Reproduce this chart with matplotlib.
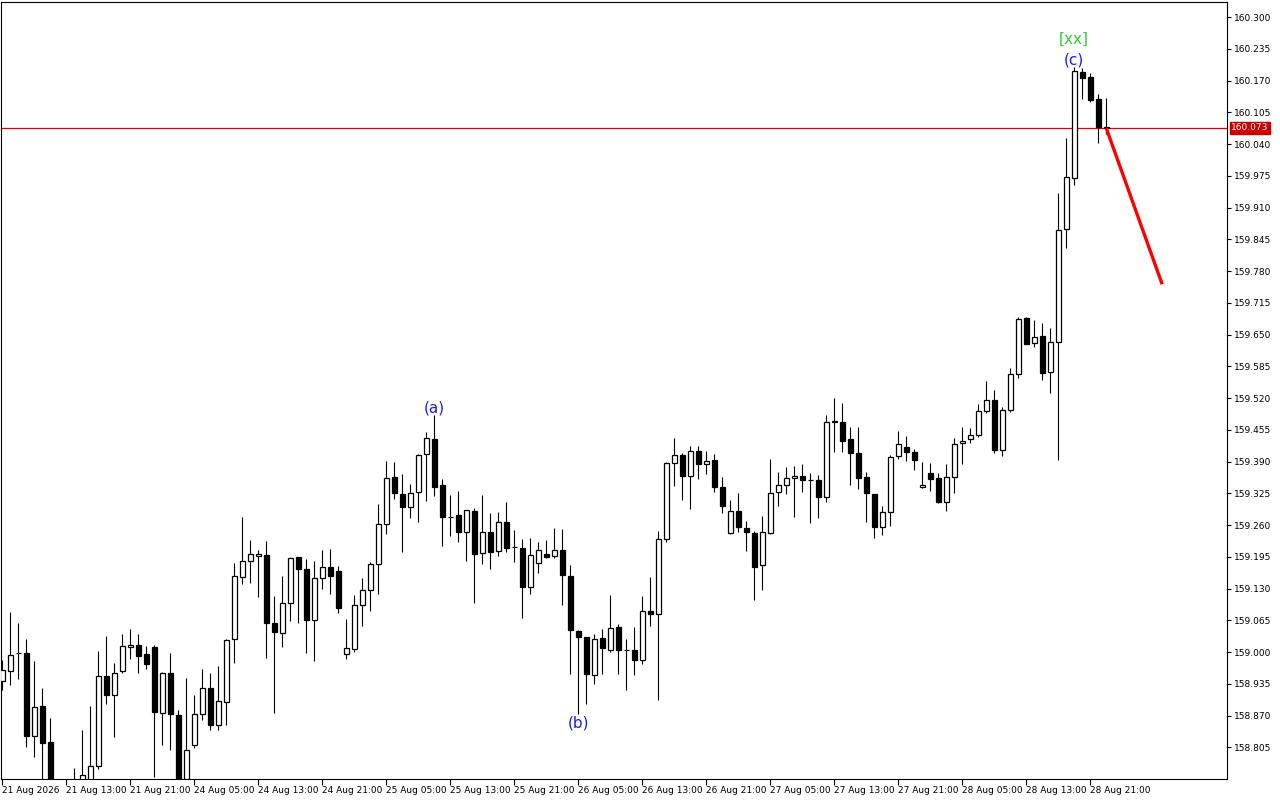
import matplotlib
matplotlib.use("Agg")
import matplotlib.pyplot as plt
import numpy as np

opens = [158.941, 158.961, 158.997, 158.999, 158.829, 158.889, 158.815, 158.720, 158.700, 158.715,
         158.725, 158.738, 158.767, 158.951, 158.911, 158.961, 159.010, 159.014, 158.996, 159.010,
         158.875, 158.958, 158.871, 158.740, 158.810, 158.873, 158.926, 158.851, 158.898, 159.026,
         159.153, 159.186, 159.196, 159.199, 159.059, 159.038, 159.100, 159.194, 159.170, 159.065,
         159.151, 159.175, 159.165, 158.995, 159.006, 159.096, 159.128, 159.180, 159.262, 159.358,
         159.324, 159.296, 159.327, 159.405, 159.436, 159.341, 159.277, 159.280, 159.245, 159.288,
         159.202, 159.245, 159.206, 159.266, 159.215, 159.214, 159.133, 159.182, 159.201, 159.196,
         159.208, 159.155, 159.043, 159.030, 158.952, 159.029, 159.004, 159.051, 159.005, 159.004,
         158.983, 159.085, 159.077, 159.231, 159.388, 159.403, 159.360, 159.411, 159.386, 159.394,
         159.337, 159.243, 159.288, 159.253, 159.243, 159.179, 159.244, 159.327, 159.341, 159.356,
         159.360, 159.353, 159.352, 159.317, 159.472, 159.472, 159.436, 159.407, 159.358, 159.323,
         159.257, 159.286, 159.401, 159.419, 159.409, 159.337, 159.366, 159.356, 159.308, 159.358,
         159.427, 159.436, 159.444, 159.493, 159.517, 159.413, 159.495, 159.569, 159.684, 159.632,
         159.647, 159.573, 159.634, 159.867, 159.970, 160.187, 160.177, 160.132, 160.075]
highs = [158.984, 159.082, 159.060, 159.027, 158.982, 158.926, 158.865, 158.735, 158.730, 158.763,
         158.840, 158.890, 159.002, 159.033, 158.978, 159.037, 159.047, 159.037, 159.012, 159.014,
         158.959, 158.998, 158.881, 158.947, 158.912, 158.965, 158.957, 158.971, 159.026, 159.182,
         159.276, 159.229, 159.209, 159.227, 159.115, 159.156, 159.195, 159.195, 159.190, 159.186,
         159.209, 159.211, 159.176, 159.068, 159.117, 159.152, 159.185, 159.303, 159.391, 159.389,
         159.365, 159.344, 159.405, 159.450, 159.485, 159.354, 159.321, 159.330, 159.291, 159.294,
         159.321, 159.285, 159.286, 159.307, 159.250, 159.231, 159.233, 159.225, 159.229, 159.253,
         159.251, 159.178, 159.045, 159.031, 159.037, 159.047, 159.116, 159.057, 159.027, 159.051,
         159.114, 159.154, 159.247, 159.389, 159.438, 159.407, 159.422, 159.422, 159.411, 159.405,
         159.358, 159.311, 159.325, 159.268, 159.247, 159.278, 159.395, 159.368, 159.378, 159.380,
         159.384, 159.366, 159.362, 159.485, 159.520, 159.509, 159.460, 159.460, 159.369, 159.324,
         159.300, 159.403, 159.452, 159.442, 159.416, 159.390, 159.388, 159.366, 159.384, 159.438,
         159.461, 159.458, 159.508, 159.554, 159.536, 159.501, 159.581, 159.687, 159.687, 159.680,
         159.673, 159.663, 159.939, 160.052, 160.197, 160.196, 160.186, 160.142, 160.134]
lows = [158.922, 158.933, 158.945, 158.806, 158.786, 158.730, 158.700, 158.680, 158.670, 158.690,
        158.710, 158.725, 158.761, 158.894, 158.825, 158.957, 158.985, 158.957, 158.966, 158.745,
        158.810, 158.799, 158.700, 158.725, 158.803, 158.860, 158.840, 158.840, 158.851, 158.978,
        159.140, 159.142, 159.113, 158.988, 158.876, 159.011, 159.064, 159.060, 158.997, 158.982,
        159.130, 159.118, 159.079, 158.985, 159.001, 159.054, 159.085, 159.118, 159.242, 159.314,
        159.205, 159.275, 159.267, 159.310, 159.320, 159.218, 159.238, 159.226, 159.187, 159.100,
        159.181, 159.169, 159.197, 159.205, 159.185, 159.070, 159.118, 159.161, 159.192, 159.192,
        159.096, 158.956, 158.873, 158.894, 158.935, 158.956, 159.000, 158.956, 158.923, 158.952,
        158.976, 159.054, 158.901, 159.226, 159.340, 159.312, 159.293, 159.355, 159.365, 159.328,
        159.285, 159.242, 159.245, 159.206, 159.107, 159.126, 159.242, 159.300, 159.324, 159.277,
        159.328, 159.265, 159.275, 159.307, 159.409, 159.410, 159.343, 159.334, 159.267, 159.234,
        159.239, 159.259, 159.395, 159.392, 159.372, 159.336, 159.330, 159.305, 159.289, 159.325,
        159.386, 159.427, 159.440, 159.489, 159.407, 159.402, 159.492, 159.562, 159.630, 159.625,
        159.558, 159.530, 159.393, 159.827, 159.956, 160.132, 160.127, 160.043, 160.060]
closes = [158.963, 158.993, 158.998, 158.829, 158.887, 158.814, 158.720, 158.700, 158.715, 158.725,
          158.748, 158.767, 158.950, 158.911, 158.958, 159.012, 159.014, 158.992, 158.975, 158.878,
          158.957, 158.873, 158.730, 158.800, 158.873, 158.926, 158.851, 158.900, 159.024, 159.155,
          159.186, 159.200, 159.201, 159.060, 159.040, 159.100, 159.193, 159.169, 159.066, 159.151,
          159.174, 159.156, 159.091, 159.008, 159.096, 159.128, 159.180, 159.262, 159.356, 159.325,
          159.296, 159.325, 159.403, 159.438, 159.338, 159.276, 159.276, 159.245, 159.290, 159.201,
          159.245, 159.205, 159.266, 159.212, 159.216, 159.134, 159.199, 159.208, 159.194, 159.208,
          159.157, 159.045, 159.030, 158.954, 159.027, 159.008, 159.049, 159.005, 159.004, 158.983,
          159.085, 159.077, 159.231, 159.388, 159.403, 159.361, 159.411, 159.386, 159.392, 159.338,
          159.300, 159.288, 159.257, 159.246, 159.175, 159.245, 159.325, 159.341, 159.356, 159.360,
          159.352, 159.352, 159.317, 159.472, 159.473, 159.433, 159.407, 159.357, 159.325, 159.257,
          159.286, 159.399, 159.425, 159.409, 159.394, 159.343, 159.354, 159.308, 159.358, 159.425,
          159.433, 159.444, 159.493, 159.517, 159.413, 159.495, 159.569, 159.681, 159.631, 159.646,
          159.571, 159.634, 159.865, 159.972, 160.189, 160.175, 160.130, 160.075, 160.073]

time_labels = ["21 Aug 2026", "21 Aug 13:00", "21 Aug 21:00", "24 Aug 05:00", "24 Aug 13:00",
               "24 Aug 21:00", "25 Aug 05:00", "25 Aug 13:00", "25 Aug 21:00", "26 Aug 05:00",
               "26 Aug 13:00", "26 Aug 21:00", "27 Aug 05:00", "27 Aug 13:00", "27 Aug 21:00",
               "28 Aug 05:00", "28 Aug 13:00", "28 Aug 21:00"]
price_ticks = [158.805, 158.870, 158.935, 159.000, 159.065, 159.130, 159.195, 159.260, 159.325,
               159.390, 159.455, 159.520, 159.585, 159.650, 159.715, 159.780, 159.845, 159.910,
               159.975, 160.040, 160.105, 160.170, 160.235, 160.300]
current_price = 160.073
forecast_idx = [138, 145]
forecast_price = [160.073, 159.753]
wave_labels = ["(a)", "(b)", "(c)", "[xx]"]
wave_idx = [54, 72, 134, 134]

plt.rcParams['font.family'] = ['DejaVu Sans']
fig = plt.figure(figsize=(12.8, 8), dpi=100)
ax = fig.add_axes([1/1280, 21/800, 1226/1280, 777/800])
ax.set_facecolor('white')

n = len(opens)
x = np.arange(n)
o = np.array(opens); h = np.array(highs); l = np.array(lows); c = np.array(closes)

ax.vlines(x, l, h, color='black', linewidth=0.8, zorder=2)
up = c >= o
body_h = np.abs(c - o)
body_h = np.where(body_h < 0.001, 0.0004, body_h)
bottoms = np.minimum(o, c)
ax.bar(x[up], body_h[up], bottom=bottoms[up], width=0.58, color='white',
       edgecolor='black', linewidth=0.9, zorder=3)
ax.bar(x[~up], body_h[~up], bottom=bottoms[~up], width=0.58, color='black',
       edgecolor='black', linewidth=0.9, zorder=3)

ax.axhline(current_price, color='#e00000', linewidth=0.9, zorder=1)
ax.plot(forecast_idx, forecast_price, color='#ff0000', linewidth=2.4,
        solid_capstyle='butt', zorder=5)

ylo, yhi = 158.740, 160.331
ax.set_ylim(ylo, yhi)
ax.set_xlim(-0.15, 153.1)

# wave labels
ax.annotate(wave_labels[0], (wave_idx[0], highs[wave_idx[0]]), xytext=(0, 0),
            textcoords='offset points', ha='center', va='bottom', color='#1a1aff', fontsize=11)
ax.annotate(wave_labels[1], (wave_idx[1], lows[wave_idx[1]]), xytext=(0, -1),
            textcoords='offset points', ha='center', va='top', color='#1a1aff', fontsize=11)
ax.annotate(wave_labels[2], (wave_idx[2], highs[wave_idx[2]]), xytext=(0, 0),
            textcoords='offset points', ha='center', va='bottom', color='#1a1aff', fontsize=11)
ax.annotate(wave_labels[3], (wave_idx[3], highs[wave_idx[3]]), xytext=(0, 15),
            textcoords='offset points', ha='center', va='bottom', color='#33cc33', fontsize=11)

# axes styling
ax.yaxis.tick_right()
ax.set_yticks(price_ticks)
ax.set_yticklabels([f"{p:.3f}" for p in price_ticks])
ax.tick_params(axis='y', direction='out', length=3, width=0.8, labelsize=6.5, pad=2)
ax.set_xticks(np.arange(0, 8 * len(time_labels), 8))
ax.set_xticklabels(time_labels, ha='left')
ax.tick_params(axis='x', direction='out', length=4, width=0.8, labelsize=6.5, pad=1)
for lbl in ax.get_xticklabels():
    lbl.set_horizontalalignment('left')
for s in ax.spines.values():
    s.set_color('black'); s.set_linewidth(0.8)

# current price tag
ax.annotate(f"{current_price:.3f}", xy=(1.0, current_price), xycoords=('axes fraction', 'data'),
            xytext=(3, 0), textcoords='offset points', ha='left', va='center',
            fontsize=6.5, color='white',
            bbox=dict(boxstyle='square,pad=0.15', fc='#cc0000', ec='#cc0000'),
            annotation_clip=False)

fig.savefig('out.png', dpi=100, facecolor='white')
